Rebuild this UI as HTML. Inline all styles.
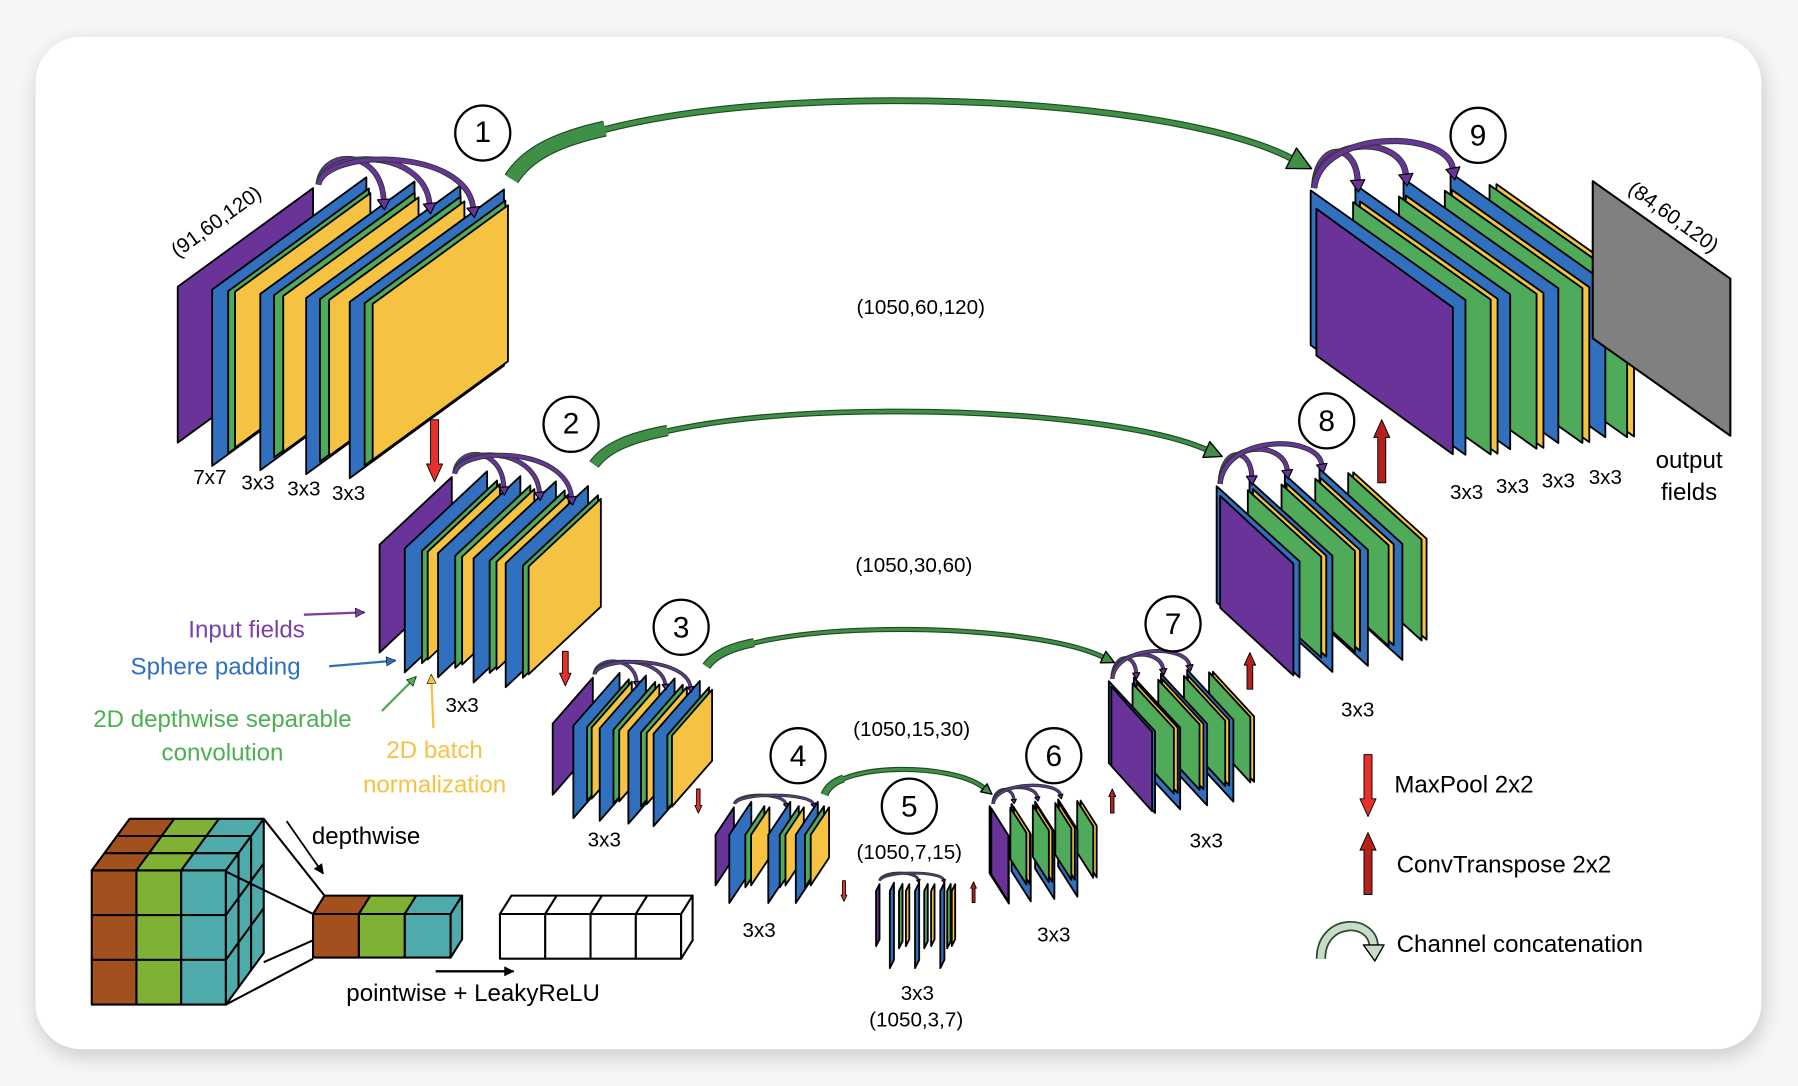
<!DOCTYPE html>
<html><head><meta charset="utf-8"><style>
html,body{margin:0;padding:0;background:#f4f4f4;}
svg{display:block}
text{font-family:"Liberation Sans",Arial,sans-serif;}
</style></head><body>
<svg id="s" width="1798" height="1086" viewBox="0 0 1568 947" preserveAspectRatio="none" xmlns="http://www.w3.org/2000/svg">
<defs><filter id="sh" x="-5%" y="-5%" width="110%" height="110%"><feGaussianBlur stdDeviation="9"/></filter></defs>
<rect x="0" y="0" width="1568" height="947" fill="#f6f6f6"/>
<rect x="33" y="38" width="1505" height="883" rx="40" fill="#000" opacity="0.18" filter="url(#sh)"/>
<rect x="31" y="32" width="1505" height="883" rx="40" fill="#fff"/>
<g id="g"></g>
<g font-size="18" fill="#000" text-anchor="middle">
<text x="421" y="124" font-size="26">1</text>
<text x="498" y="378" font-size="26">2</text>
<text x="594" y="556" font-size="26">3</text>
<text x="696" y="668" font-size="26">4</text>
<text x="793" y="712" font-size="26">5</text>
<text x="919" y="668" font-size="26">6</text>
<text x="1023" y="553" font-size="26">7</text>
<text x="1157" y="376" font-size="26">8</text>
<text x="1289" y="127" font-size="26">9</text>
<text transform="translate(192,198) rotate(-36)" font-size="18">(91,60,120)</text>
<text transform="translate(1456,194) rotate(36)" font-size="18">(84,60,120)</text>
<text x="803" y="274">(1050,60,120)</text>
<text x="797" y="499">(1050,30,60)</text>
<text x="795" y="642">(1050,15,30)</text>
<text x="793" y="749">(1050,7,15)</text>
<text x="800" y="872">3x3</text>
<text x="799" y="895">(1050,3,7)</text>
<text x="183" y="422">7x7</text>
<text x="225" y="427">3x3</text>
<text x="265" y="432">3x3</text>
<text x="304" y="436">3x3</text>
<text x="403" y="621">3x3</text>
<text x="527" y="738">3x3</text>
<text x="662" y="817">3x3</text>
<text x="919" y="821">3x3</text>
<text x="1052" y="739">3x3</text>
<text x="1184" y="625">3x3</text>
<text x="1279" y="435">3x3</text>
<text x="1319" y="430">3x3</text>
<text x="1359" y="425">3x3</text>
<text x="1400" y="422">3x3</text>
<text x="1473" y="408" font-size="21">output</text>
<text x="1473" y="436" font-size="21">fields</text>
</g>
<g font-size="21" text-anchor="middle">
<text x="215" y="556" fill="#7b3fa8">Input fields</text>
<text x="188" y="588" fill="#2f6fc0">Sphere padding</text>
<text x="194" y="634" fill="#4caf50">2D depthwise separable</text>
<text x="194" y="663" fill="#4caf50">convolution</text>
<text x="379" y="661" fill="#f5c342">2D batch</text>
<text x="379" y="691" fill="#f5c342">normalization</text>
</g>
<g font-size="21" fill="#000">
<text x="1216" y="691">MaxPool 2x2</text>
<text x="1218" y="761">ConvTranspose 2x2</text>
<text x="1218" y="830">Channel concatenation</text>
<text x="302" y="873">pointwise + LeakyReLU</text>
<text x="272" y="736">depthwise</text>
</g>
</svg>
<script>
const NS="http://www.w3.org/2000/svg",G=document.getElementById('g');
function el(t,a){const e=document.createElementNS(NS,t);for(const k in a)e.setAttribute(k,a[k]);G.appendChild(e);return e;}
function poly(p,f,sw){el('polygon',{points:p.map(q=>q[0].toFixed(1)+','+q[1].toFixed(1)).join(' '),fill:f,stroke:'#000','stroke-width':sw||1.6,'stroke-linejoin':'round'});}
const C={P:'#6a3399',B:'#3070bf',G:'#4faa5a',Y:'#f5c242'};
function sE(x,y,w,h,k,f,sw){poly([[x,y],[x+w,y-k],[x+w,y-k+h],[x,y+h]],f,sw);}
function sD(x,y,w,h,k,f,sw){poly([[x,y],[x+w,y+k],[x+w,y+k+h],[x,y+h]],f,sw);}
function arc(sx,sy,ex,ey,H,wid,col,head){
  const top=Math.min(sy,ey)-H;const c1x=sx+(ex-sx)*0.05,c2x=ex-(ex-sx)*0.05;
  const d=`M${sx},${sy} C${c1x},${top} ${c2x},${top} ${ex},${ey}`;
  el('path',{d,fill:'none',stroke:'#1f3d22','stroke-width':wid+1.5});
  el('path',{d,fill:'none',stroke:col,'stroke-width':wid});
  let dx=ex-c2x,dy=ey-top,L=Math.hypot(dx,dy);dx/=L;dy/=L;
  const tx=ex+dx*head,ty=ey+dy*head,px=-dy*head*0.6,py=dx*head*0.6;
  poly([[tx,ty],[ex+px,ey+py],[ex-px,ey-py]],col,1);
}
function enc(x0,y0,w,h,k,dy,offs,bw,bh,H,aw){
  const types=offs.length==13?'PBGYBGYBGYBGY':'PBGYBGYBGY';const blues=[];
  offs.forEach((o,i)=>{const t=types[i],x=x0+o,y=y0+dy*o;
    if(t=='B'){sE(x,y,w*bw,h*bh,k*bw,C.B);blues.push([x,y]);}
    else if(t=='G')sE(x,y,w*1.04,h*1.04,k*1.04,C.G);
    else sE(x,y,w,h,k,C[t]);});
  const sx=x0+w*1.04,sy=y0-k-3;
  for(let i=1;i<blues.length;i++){const [bx,by]=blues[i];const ex=bx+0.8*w*bw,ey=by-0.8*k*bw-4;arc(sx,sy,ex,ey,H,aw,C.P,aw*2.6);}
}
function dec(x0,y0,w,h,k,f,dy,bw,bh,byo,H,aw){
  const L=[['B',0],['G',37],['Y',43],['B',39],['G',77],['Y',83],['B',81],['G',117],['Y',123],['B',122],['G',156],['Y',162]];
  const blues=[];
  for(let i=L.length-1;i>=0;i--){const [t,o0]=L[i],o=o0*f,x=x0+o,y=y0+dy*o;
    if(t=='B'){sD(x,y+byo,w*bw,h*bh,k*bw,C.B);blues.push([x,y+byo]);}
    else sD(x,y,w,h,k,C[t]);}
  const s=w/120;
  sD(x0+4*s+1,y0+byo+16*s,w*bw-16*s,h*bh-7*s,k*bw*0.9,C.P);
  blues.reverse();
  const sx=x0+3,sy=y0+byo-2;
  for(let i=1;i<blues.length;i++){const [bx,by]=blues[i];arc(sx,sy,bx+2,by-4,H,aw,C.P,aw*2.6);}
}
enc(155,250,118,136,86,0.088,[0,30,44,50,72,84,92,112,124,132,150,163,170],1.14,1.13,32,3.5);
enc(331,475,63,94,59,0.146,[0,22,37,42,51,66,72,82,96,102,110,125,130],1.14,1.15,24,2.8);
enc(482,631,35,62,40,0.1,[0,18,30,34,41,53,58,66,77,82,88,100,104],1.15,1.3,16,1.8);
enc(624,728,16,44,24,0,[0,12,26,31,46,56,61,70,78,83],1.2,1.35,10,1.3);
enc(764,777,3,48,6,0,[0,12,20,26,34,42,48,56,62,66],1.2,1.4,8,1);
dec(1143,181,120,135,85,1,-0.126,1.125,1.0,-15,34,4);
dec(1061,432,64,88,58,0.735,-0.17,1.13,1.15,-8,26,3);
dec(967,599,36,57,39,0.56,-0.146,1.12,1.25,-5,18,2);
dec(863,706,14,45,22,0.49,-0.1,1.2,1.3,-3,12,1.4);
sD(1389,158,120,137,85,'#808080',1.8);
function skip(sx,sy,ex,ey,peak,th,hl,st){
  const yc=(peak-0.25*(sy+ey)/2)/0.75;const c1x=sx+(ex-sx)*0.08,c2x=ex-(ex-sx)*0.2;
  const d=`M${sx},${sy} C${c1x},${yc} ${c2x},${yc} ${ex},${ey}`;
  // tapered start: short thick segment
  const d2=`M${sx},${sy} C${sx+(ex-sx)*0.02},${sy-(sy-yc)*0.25} ${sx+(ex-sx)*0.06},${sy-(sy-yc)*0.4} ${sx+(ex-sx)*0.12},${sy-(sy-yc)*0.5}`;
  el('path',{d:d2,fill:'none',stroke:'#1e4a22','stroke-width':st+2});
  el('path',{d,fill:'none',stroke:'#1e4a22','stroke-width':th+2});
  el('path',{d:d2,fill:'none',stroke:'#3f8f46','stroke-width':st});
  el('path',{d,fill:'none',stroke:'#3f8f46','stroke-width':th});
  let dx=ex-c2x,dy=ey-yc,L=Math.hypot(dx,dy);dx/=L;dy/=L;
  const tx=ex+dx*hl,ty=ey+dy*hl,px=-dy*hl*0.5,py=dx*hl*0.5;
  poly([[tx,ty],[ex+px,ey+py],[ex-px,ey-py]],'#3f8f46',1.2);
}
skip(446,156,1126,138,88,4,20,12);
skip(518,405,1052,392,359,3,15,8);
skip(616,581,962,573,549,2.5,11,6);
skip(719,693,858,687,671,2.5,9,5);
function circ(x,y){el('circle',{cx:x,cy:y,r:24,fill:'#fff',stroke:'#000','stroke-width':2});}
[[421,116],[498,370],[594,547],[696,659],[793,703],[919,659],[1023,544],[1157,367],[1289,118]].forEach(c=>circ(c[0],c[1]));
function varrow(x,y1,y2,w,col,up){
  const hh=Math.min(w*2.2,(y2-y1)*0.4);let p;
  if(!up)p=[[x-w/2,y1],[x+w/2,y1],[x+w/2,y2-hh],[x+w,y2-hh],[x,y2],[x-w,y2-hh],[x-w/2,y2-hh]];
  else p=[[x-w/2,y2],[x+w/2,y2],[x+w/2,y1+hh],[x+w,y1+hh],[x,y1],[x-w,y1+hh],[x-w/2,y1+hh]];
  poly(p,col,0.8);
}
varrow(379,366,420,7,'#e8302a');varrow(493,568,598,5,'#e8302a');varrow(609,688,709,3,'#e8302a');varrow(736,768,786,2.5,'#e8302a');
varrow(849,769,787,2.5,'#b3221c',1);varrow(970,688,709,3,'#b3221c',1);varrow(1090,569,601,5,'#b3221c',1);varrow(1205,366,421,7,'#b3221c',1);
varrow(1193,658,712,7,'#e8302a');varrow(1193,726,780,7,'#b3221c',1);
(function(){const d='M1152,836 C1152,800 1198,800 1198,826';
el('path',{d,fill:'none',stroke:'#2a4a2a','stroke-width':9});el('path',{d,fill:'none',stroke:'#c9dcc9','stroke-width':6});
poly([[1189,824],[1207,824],[1199,838]],'#c9dcc9',1.2);})();
function line(x1,y1,x2,y2,col,w){el('line',{x1,y1,x2,y2,stroke:col,'stroke-width':w||2});
 let dx=x2-x1,dy=y2-y1,L=Math.hypot(dx,dy);dx/=L;dy/=L;const h=8;
 poly([[x2,y2],[x2-dx*h-dy*h*0.5,y2-dy*h+dx*h*0.5],[x2-dx*h+dy*h*0.5,y2-dy*h-dx*h*0.5]],col,0.5);}
line(265,536,318,534,'#7b3fa8');line(287,581,345,576,'#2f6fc0');line(333,620,363,590,'#4caf50');line(378,635,376,588,'#f5c342');
const BR='#a3501f',GR='#7fb135',TE='#4fabab';const cols=[BR,GR,TE];
const dxv=33/3,dyv=-45/3;
for(let d=2;d>=0;d--)for(let c=0;c<3;c++){const x=80+c*39+dxv*d,y=759+dyv*d;
 poly([[x,y],[x+39,y],[x+39+dxv,y+dyv],[x+dxv,y+dyv]],cols[c],1.8);}
for(let r=0;r<3;r++)for(let c=0;c<3;c++)poly([[80+c*39,759+r*39],[119+c*39,759+r*39],[119+c*39,798+r*39],[80+c*39,798+r*39]],cols[c],1.8);
for(let d=0;d<3;d++)for(let r=0;r<3;r++){const x=197+dxv*d,y=759+r*39+dyv*d;poly([[x,y],[x+dxv,y+dyv],[x+dxv,y+dyv+39],[x,y+39]],TE,1.8);}
[[197,760,273,797],[230,714,283,781],[230,839,273,820],[197,876,273,836]].forEach(l=>el('line',{x1:l[0],y1:l[1],x2:l[2],y2:l[3],stroke:'#000','stroke-width':1.8}));
line(250,716,282,762,'#000',1.6);
for(let c=0;c<3;c++){const x=273+c*40;poly([[x,797],[x+40,797],[x+50,781],[x+10,781]],cols[c],1.8);poly([[x,797],[x+40,797],[x+40,835],[x,835]],cols[c],1.8);}
poly([[393,797],[403,781],[403,819],[393,835]],TE,1.8);
for(let c=0;c<4;c++){const x=436+c*39.5;poly([[x,797],[x+39.5,797],[x+49.5,781],[x+10,781]],'#fff',1.8);poly([[x,797],[x+39.5,797],[x+39.5,836],[x,836]],'#fff',1.8);}
poly([[594,797],[604,781],[604,820],[594,836]],'#fff',1.8);
line(380,847,448,847,'#000',2);
</script>
</body></html>
